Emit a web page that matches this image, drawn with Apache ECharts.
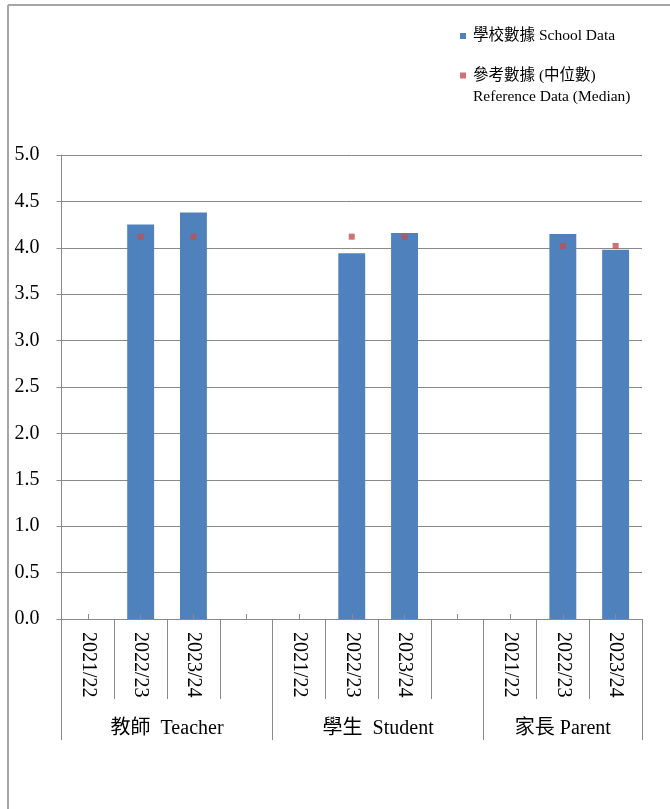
<!DOCTYPE html>
<html>
<head>
<meta charset="utf-8">
<script src="https://cdn.jsdelivr.net/npm/echarts@6/dist/echarts.min.js"></script>
<style>
  html, body { margin: 0; padding: 0; background: #fff; }
  #chart { width: 670px; height: 809px; }
</style>
</head>
<body>
<div id="chart"></div>
<script>
const years = ['2021/22', '2022/23', '2023/24'];
const groups = ['教師  Teacher', '學生  Student', '家長 Parent'];
const teacherSchool = [null, 4.25, 4.38];
const studentSchool = [null, 3.94, 4.16];
const parentSchool = [null, 4.15, 3.98];
const teacherMedian = [null, 4.12, 4.12];
const studentMedian = [null, 4.12, 4.12];
const parentMedian = [null, 4.02, 4.02];
const schoolName = '學校數據 School Data';
const medianName = '參考數據 (中位數)\nReference Data (Median)';

// build the 11-slot category axis (a blank slot after Teacher and Student)
const categories = [].concat(years, [''], years, [''], years);
const schoolValues = [].concat(teacherSchool, [null], studentSchool, [null], parentSchool);
const medianValues = [].concat(teacherMedian, [null], studentMedian, [null], parentMedian);
const groupStarts = [0, 4, 8, 11];
const groupCenters = [2, 6, 9.5];

const FONT = "'Liberation Serif', 'Times New Roman', 'Noto Sans CJK TC', serif";
const LINE = '#8a8a8a';

const chart = echarts.init(document.getElementById('chart'), null, { renderer: 'canvas' });
chart.setOption({
  animation: false,
  backgroundColor: '#fff',
  textStyle: { fontFamily: FONT },
  grid: { left: 61.5, right: 28, top: 155, bottom: 190, containLabel: false },
  legend: [
    {
      data: [schoolName], left: 460, top: 25.5, padding: 0, orient: 'vertical',
      itemWidth: 6, itemHeight: 6, icon: 'rect',
      textStyle: { fontSize: 15.5, lineHeight: 21, color: '#000', fontFamily: FONT, padding: [0, 0, 0, 2] }
    },
    {
      data: [medianName], left: 460, top: 44, padding: 0, orient: 'vertical',
      itemWidth: 6, itemHeight: 6, icon: 'rect',
      formatter: n => '\n' + n,
      textStyle: { fontSize: 15.5, lineHeight: 21, color: '#000', fontFamily: FONT, padding: [0, 0, 0, 2] }
    }
  ],
  xAxis: [
    {
      type: 'category', data: categories, position: 'bottom', boundaryGap: true,
      axisLine: { show: true, onZero: false, lineStyle: { color: LINE, width: 1 } },
      axisTick: { show: true, length: 80, lineStyle: { color: LINE } },
      axisLabel: { rotate: -90, margin: 13, fontSize: 20, color: '#000', fontFamily: FONT, interval: 0 },
      splitLine: { show: false }
    },
    {
      type: 'category', data: categories, position: 'bottom', boundaryGap: true, z: 10,
      axisLine: { show: false },
      axisTick: { show: true, inside: true, alignWithLabel: true, length: 5, interval: 0, lineStyle: { color: LINE } },
      axisLabel: { show: false }
    },
    {
      type: 'value', position: 'bottom', min: 0, max: 11,
      axisLine: { show: false, onZero: false },
      axisTick: { show: true, length: 121, customValues: groupStarts, lineStyle: { color: LINE } },
      axisLabel: {
        show: true, customValues: groupCenters, margin: 100, fontSize: 20, color: '#000', fontFamily: FONT,
        formatter: v => groups[groupCenters.indexOf(v)] || ''
      },
      splitLine: { show: false }
    }
  ],
  yAxis: {
    type: 'value', min: 0, max: 5, interval: 0.5,
    axisLine: { show: true, lineStyle: { color: LINE } },
    axisTick: { show: true, length: 5, lineStyle: { color: LINE } },
    axisLabel: { margin: 22, fontSize: 20, color: '#000', fontFamily: FONT, padding: [4, 0, 0, 0], formatter: v => v.toFixed(1) },
    splitLine: { show: true, lineStyle: { color: LINE } }
  },
  series: [
    {
      name: schoolName, type: 'bar', xAxisIndex: 0, data: schoolValues,
      barWidth: '51%', itemStyle: { color: '#4F81BD' }
    },
    {
      name: medianName, type: 'scatter', xAxisIndex: 0, data: medianValues,
      symbol: 'rect', symbolSize: 6, itemStyle: { color: '#C0504D' }, z: 5
    }
  ],
  graphic: [
    { type: 'line', shape: { x1: 8, y1: 5, x2: 670, y2: 5 }, style: { stroke: '#a6a6a6', lineWidth: 2 } },
    { type: 'line', shape: { x1: 8, y1: 5, x2: 8, y2: 809 }, style: { stroke: '#a6a6a6', lineWidth: 2 } }
  ]
});
</script>
</body>
</html>
